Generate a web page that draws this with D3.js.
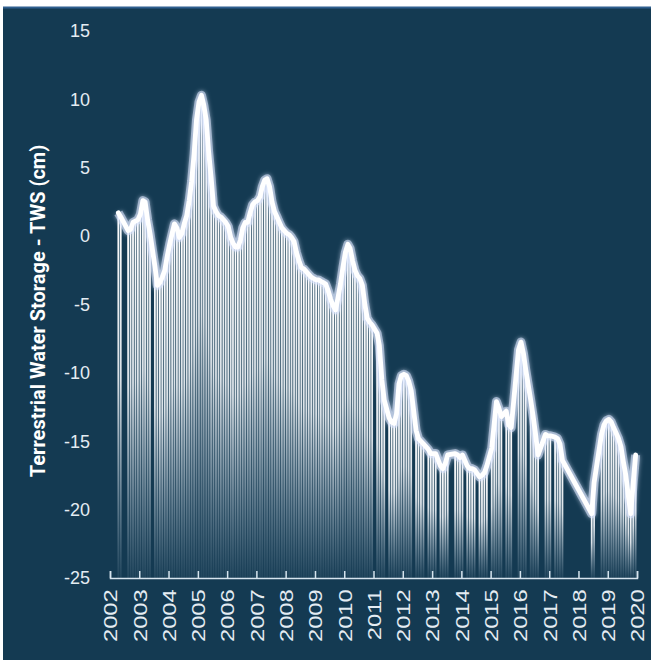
<!DOCTYPE html>
<html>
<head>
<meta charset="utf-8">
<script src="https://cdn.jsdelivr.net/npm/d3@7/dist/d3.min.js"></script>
<style>
  html, body { margin: 0; padding: 0; background: #ffffff; }
  svg { display: block; }
</style>
</head>
<body>
<svg id="chart" width="653" height="660"></svg>
<script>
// ---- data ----
const months = [
 "2002-04","2002-05","2002-08","2002-09","2002-10","2002-11","2002-12",
 "2003-01","2003-02","2003-03","2003-04","2003-05","2003-07","2003-08","2003-09","2003-10","2003-11","2003-12",
 "2004-01","2004-02","2004-03","2004-04","2004-05","2004-06","2004-07","2004-08","2004-09","2004-10","2004-11","2004-12",
 "2005-01","2005-02","2005-03","2005-04","2005-05","2005-06","2005-07","2005-08","2005-09","2005-10","2005-11","2005-12",
 "2006-01","2006-02","2006-03","2006-04","2006-05","2006-06","2006-07","2006-08","2006-09","2006-10","2006-11","2006-12",
 "2007-01","2007-02","2007-03","2007-04","2007-05","2007-06","2007-07","2007-08","2007-09","2007-10","2007-11","2007-12",
 "2008-01","2008-02","2008-03","2008-04","2008-05","2008-06","2008-07","2008-08","2008-09","2008-10","2008-11","2008-12",
 "2009-01","2009-02","2009-03","2009-04","2009-05","2009-06","2009-07","2009-08","2009-09","2009-10","2009-11","2009-12",
 "2010-01","2010-02","2010-03","2010-04","2010-05","2010-06","2010-07","2010-08","2010-09","2010-10","2010-11","2010-12",
 "2011-02","2011-03","2011-04","2011-05","2011-07","2011-08","2011-09","2011-10","2011-11","2011-12",
 "2012-01","2012-02","2012-03","2012-04","2012-06","2012-07","2012-08","2012-09","2012-11","2012-12",
 "2013-01","2013-02","2013-04","2013-05","2013-06","2013-07","2013-10","2013-11","2013-12",
 "2014-01","2014-03","2014-04","2014-05","2014-06","2014-08","2014-09","2014-10","2014-11",
 "2015-01","2015-02","2015-03","2015-04","2015-05","2015-07","2015-08","2015-09","2015-12",
 "2016-01","2016-02","2016-03","2016-05","2016-06","2016-07","2016-08","2016-11","2016-12",
 "2017-01","2017-03","2017-04","2017-05","2017-06",
 "2018-06","2018-07","2018-10","2018-11","2018-12",
 "2019-01","2019-02","2019-03","2019-04","2019-05","2019-06","2019-07","2019-08","2019-09","2019-10","2019-11","2019-12"
];
const tws = [
 1.7,1.4,0.4,0.5,1.0,1.1,1.2,
 1.6,2.6,2.5,1.2,0.2,-2.2,-3.6,-3.4,-3.0,-2.5,-1.5,
 -0.6,0.2,0.9,0.6,-0.1,0.2,0.9,1.5,2.6,4.0,6.0,8.5,
 9.8,10.3,9.6,8.5,6.2,4.3,2.2,1.8,1.5,1.4,1.2,1.0,
 0.7,-0.1,-0.5,-0.8,-0.8,-0.3,0.6,1.0,1.0,1.7,2.3,2.5,
 2.6,2.9,3.6,4.1,4.2,3.6,2.5,1.8,1.4,1.0,0.6,0.4,
 0.2,0.1,-0.1,-0.4,-1.2,-1.8,-2.3,-2.4,-2.6,-2.8,-3.0,-3.1,
 -3.2,-3.2,-3.3,-3.4,-3.5,-4.0,-4.6,-5.1,-5.4,-4.5,-3.5,-2.3,
 -1.2,-0.6,-0.9,-1.8,-2.5,-2.9,-3.1,-3.6,-5.0,-6.0,-6.3,-6.5,
 -7.1,-8.0,-10.5,-12.0,-13.3,-13.6,-13.7,-13.0,-10.8,-10.2,
 -10.1,-10.2,-10.6,-11.3,-14.2,-14.8,-15.0,-15.2,-15.6,-15.9,
 -15.9,-15.9,-16.8,-17.0,-16.6,-16.0,-15.9,-16.0,-16.2,
 -16.0,-16.8,-17.0,-17.0,-17.1,-17.6,-17.5,-17.3,-16.8,
 -15.5,-13.7,-12.1,-12.6,-13.2,-12.8,-13.8,-14.0,-8.3,
 -7.75,-8.6,-9.8,-12.0,-13.2,-14.5,-16.0,-14.5,-14.6,
 -14.6,-14.7,-14.8,-15.2,-16.4,
 -20.3,-18.0,-14.5,-13.8,-13.5,
 -13.4,-13.6,-14.0,-14.4,-14.8,-15.4,-16.5,-17.5,-19.0,-20.3,-18.0,-16.0
];
const yearTicks = ["2002","2003","2004","2005","2006","2007","2008","2009","2010","2011",
                   "2012","2013","2014","2015","2016","2017","2018","2019","2020"];
const yTicks = [15, 10, 5, 0, -5, -10, -15, -20, -25];
const yTitle = "Terrestrial  Water Storage - TWS (cm)";

// ---- chart ----
const svg = d3.select("#chart");
const W = 653, H = 660;
const bg = "#143a52";

const parseMonth = d3.timeParse("%Y-%m-%d");
const data = months.map((m, i) => ({ date: parseMonth(m + "-15"), v: tws[i] }));

const x = d3.scaleTime()
  .domain([parseMonth("2002-01-01"), parseMonth("2020-01-01")])
  .range([110, 637]);
const y = d3.scaleLinear().domain([-25, 15]).range([578, 31]);

// panel
svg.append("rect").attr("x", 3).attr("y", 7).attr("width", W - 5).attr("height", H - 7).attr("fill", bg);
svg.append("line").attr("x1", 3).attr("x2", W - 2).attr("y1", 7.5).attr("y2", 7.5)
  .attr("stroke", "#2f5f8f").attr("stroke-width", 2);

const defs = svg.append("defs");
const grad = defs.append("linearGradient").attr("id", "barGrad")
  .attr("x1", 0).attr("y1", 0).attr("x2", 0).attr("y2", 1);
grad.append("stop").attr("offset", "0%").attr("stop-color", "#ffffff").attr("stop-opacity", 1);
grad.append("stop").attr("offset", "45%").attr("stop-color", "#f0f4f8").attr("stop-opacity", 0.9);
grad.append("stop").attr("offset", "100%").attr("stop-color", "#c8d8e6").attr("stop-opacity", 0.08);

const glow = defs.append("filter").attr("id", "glow")
  .attr("x", "-10%").attr("y", "-10%").attr("width", "120%").attr("height", "120%");
glow.append("feGaussianBlur").attr("in", "SourceGraphic").attr("stdDeviation", 2.2).attr("result", "b");
const merge = glow.append("feMerge");
merge.append("feMergeNode").attr("in", "b");
merge.append("feMergeNode").attr("in", "SourceGraphic");

// bars
svg.append("g").selectAll("rect").data(data).join("rect")
  .attr("x", d => x(d.date) - 0.9)
  .attr("width", 1.8)
  .attr("y", d => y(d.v))
  .attr("height", d => y(-25) - y(d.v))
  .attr("fill", "url(#barGrad)");

// line
const line = d3.line().x(d => x(d.date)).y(d => y(d.v)).curve(d3.curveLinear);
svg.append("path").datum(data)
  .attr("d", line)
  .attr("fill", "none")
  .attr("stroke", "#dfe8ff")
  .attr("stroke-opacity", 0.55)
  .attr("stroke-width", 9)
  .attr("stroke-linejoin", "round")
  .attr("filter", "url(#glow)");
svg.append("path").datum(data)
  .attr("d", line)
  .attr("fill", "none")
  .attr("stroke", "#ffffff")
  .attr("stroke-width", 4.8)
  .attr("stroke-linejoin", "round")
  .attr("stroke-linecap", "round");

// x axis
const xAxis = d3.axisBottom(x)
  .tickValues(yearTicks.map(t => parseMonth(t + "-01-01")))
  .tickFormat(d3.timeFormat("%Y"))
  .tickSizeInner(-7).tickSizeOuter(-7);
const gx = svg.append("g").attr("transform", `translate(0,${y(-25)})`).call(xAxis);
gx.select(".domain").attr("stroke", "#d6e4ee").attr("stroke-width", 1.5);
gx.selectAll(".tick line").attr("stroke", "#d6e4ee").attr("stroke-width", 1.5);
gx.selectAll(".tick text")
  .attr("transform", "rotate(-90) scale(1.25,1)")
  .attr("x", -9).attr("y", 0).attr("dy", "0.36em")
  .attr("text-anchor", "end")
  .attr("fill", "#e4ecf2")
  .style("font-family", "'Liberation Sans', Arial, sans-serif")
  .style("font-size", "19px");

// y axis
const yAxis = d3.axisLeft(y).tickValues(yTicks).tickSize(0).tickPadding(0)
  .tickFormat(d => String(d));
const gy = svg.append("g").attr("transform", "translate(90,0)").call(yAxis);
gy.select(".domain").remove();
gy.selectAll(".tick text")
  .attr("fill", "#e4ecf2")
  .style("font-family", "'Liberation Sans', Arial, sans-serif")
  .style("font-size", "18px");

// y title
svg.append("text")
  .attr("transform", "translate(45,311) rotate(-90)")
  .attr("text-anchor", "middle")
  .attr("fill", "#ffffff")
  .style("font-family", "Roboto, 'Liberation Sans', Arial, sans-serif")
  .style("font-weight", "bold")
  .style("font-size", "20px")
  .text(yTitle);
</script>
</body>
</html>
